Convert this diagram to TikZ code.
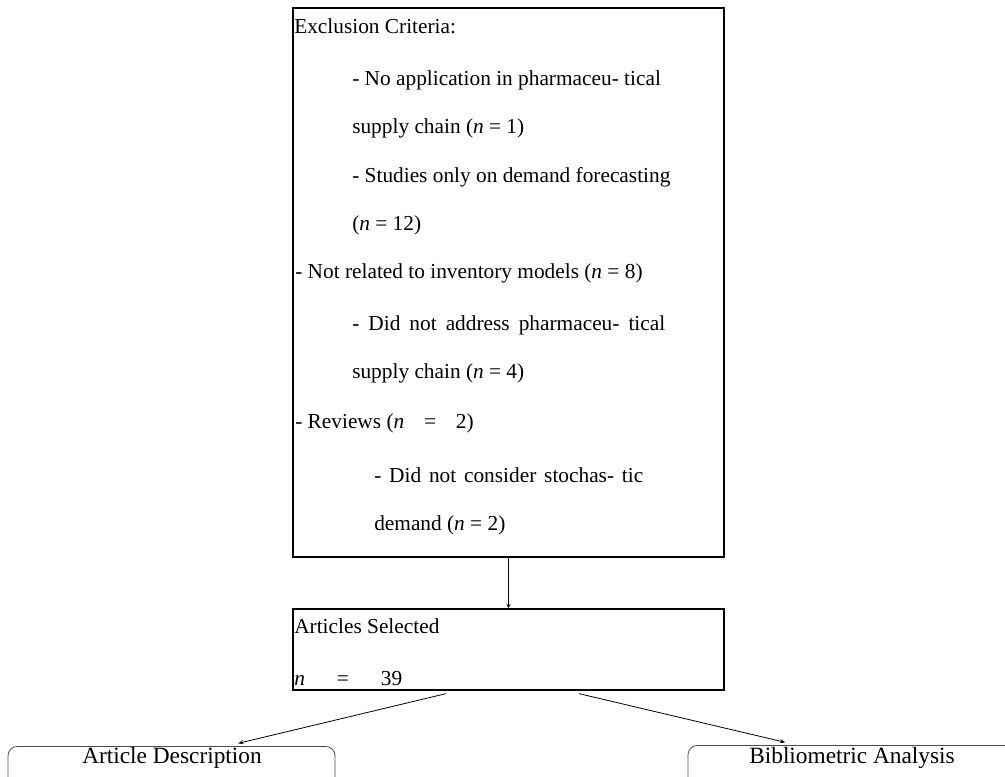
\documentclass[tikz,border=0pt]{standalone}
\usepackage{fontspec}
\setmainfont{Liberation Serif}
\usetikzlibrary{arrows.meta}
\begin{document}
\begin{tikzpicture}[x=0.75pt,y=-0.75pt,
  txt/.style={anchor=base west, inner sep=0pt, font=\fontsize{16}{19}\selectfont},
  bigbox/.style={draw, line width=1.5pt, anchor=north west, inner sep=0pt},
  outbox/.style={draw=black!70, line width=0.6pt, rounded corners=7pt, anchor=north, inner sep=0pt},
  outtxt/.style={anchor=base, inner sep=0pt, font=\fontsize{17.5}{21}\selectfont},
  conn/.style={line width=0.6pt, -{Stealth[length=4pt,width=3pt]}}]
\clip (0,0) rectangle (1005,776);
% boxes
\node[bigbox, minimum width=323.25pt, minimum height=411.75pt] (ex) at (292,7) {};
\node[bigbox, minimum width=323.25pt, minimum height=60.75pt] (art) at (292,608) {};
\node[outbox, minimum width=245.25pt, minimum height=45pt] (ad) at (171.5,746) {};
\node[outbox, minimum width=246pt, minimum height=45pt] (ba) at (852,745) {};
% exclusion text
\node[txt] (t1) at (294,33) {Exclusion Criteria:};
\node[txt] (t2) at (352,85) {- No application in pharmaceu- tical};
\node[txt] (t3) at (352,133) {supply chain (\textit{n} = 1)};
\node[txt] (t4) at (352,182) {- Studies only on demand forecasting};
\node[txt] (t5) at (352,230) {(\textit{n} = 12)};
\node[txt] (t6) at (295,278) {- Not related to inventory models (\textit{n} = 8)};
\node[txt] (t7) at (352,330) {\makebox[234.75pt][s]{- Did not address pharmaceu- tical}};
\node[txt] (t8) at (352,378) {supply chain (\textit{n} = 4)};
\node[txt] (t9) at (295,428) {- Reviews (\makebox[60pt][s]{\textit{n} = 2)}};
\node[txt] (t10) at (374,482) {\makebox[201.75pt][s]{- Did not consider stochas- tic}};
\node[txt] (t11) at (374,530) {demand (\textit{n} = 2)};
% articles text
\node[txt] (a1) at (294,633) {Articles Selected};
\node[txt] (a2) at (294,685) {\makebox[81pt][s]{\textit{n} = 39}};
% outcome labels
\node[outtxt] (adl) at (172,763) {Article Description};
\node[outtxt] (bal) at (852,763) {Bibliometric Analysis};
% connectors
\draw[line width=1.2pt, -{Stealth[length=3pt,width=3pt]}] (ex.south) -- (art.north);
\draw[conn] ([xshift=-47pt,yshift=-2pt]art.south) -- ([xshift=50pt,yshift=2pt]ad.north);
\draw[conn] ([xshift=53pt,yshift=-2pt]art.south) -- ([xshift=-50pt,yshift=2pt]ba.north);
\end{tikzpicture}
\end{document}
